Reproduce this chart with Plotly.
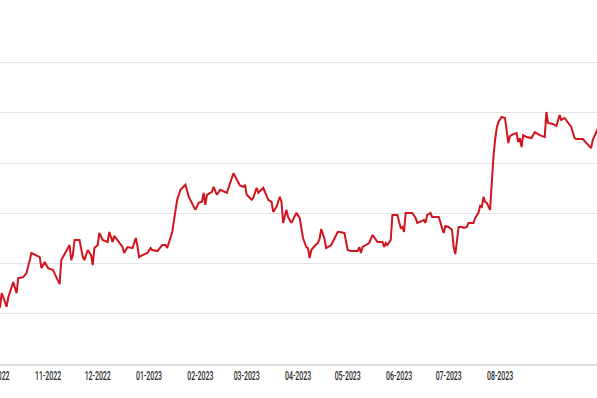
import plotly.graph_objects as go
import pandas as pd

dates = [
    "2022-10-03", "2022-10-04", "2022-10-05", "2022-10-07", "2022-10-08", "2022-10-11", "2022-10-13", "2022-10-14",
    "2022-10-17", "2022-10-19", "2022-10-22", "2022-10-25", "2022-10-27", "2022-10-28", "2022-10-30", "2022-11-01",
    "2022-11-04", "2022-11-06", "2022-11-08", "2022-11-09", "2022-11-12", "2022-11-14", "2022-11-15", "2022-11-16",
    "2022-11-17", "2022-11-20", "2022-11-22", "2022-11-23", "2022-11-25", "2022-11-27", "2022-11-28", "2022-11-29",
    "2022-12-01", "2022-12-02", "2022-12-04", "2022-12-07", "2022-12-08", "2022-12-10", "2022-12-11", "2022-12-14",
    "2022-12-16", "2022-12-17", "2022-12-19", "2022-12-22", "2022-12-24", "2022-12-25", "2022-12-26", "2022-12-28",
    "2022-12-31", "2023-01-02", "2023-01-03", "2023-01-06", "2023-01-09", "2023-01-11", "2023-01-12", "2023-01-15",
    "2023-01-17", "2023-01-18", "2023-01-20", "2023-01-22", "2023-01-23", "2023-01-25", "2023-01-28", "2023-01-29",
    "2023-01-31", "2023-02-02", "2023-02-03", "2023-02-04", "2023-02-05", "2023-02-08", "2023-02-09", "2023-02-11",
    "2023-02-13", "2023-02-17", "2023-02-21", "2023-02-23", "2023-02-25", "2023-02-27", "2023-02-28", "2023-03-01",
    "2023-03-04", "2023-03-05", "2023-03-07", "2023-03-08", "2023-03-11", "2023-03-12", "2023-03-14", "2023-03-16",
    "2023-03-17", "2023-03-19", "2023-03-21", "2023-03-22", "2023-03-23", "2023-03-25", "2023-03-26", "2023-03-28",
    "2023-03-31", "2023-04-02", "2023-04-04", "2023-04-06", "2023-04-07", "2023-04-08", "2023-04-09", "2023-04-11",
    "2023-04-13", "2023-04-14", "2023-04-15", "2023-04-17", "2023-04-18", "2023-04-21", "2023-04-22", "2023-04-25",
    "2023-04-26", "2023-04-29", "2023-05-01", "2023-05-03", "2023-05-07", "2023-05-08", "2023-05-09", "2023-05-10",
    "2023-05-13", "2023-05-14", "2023-05-16", "2023-05-19", "2023-05-22", "2023-05-23", "2023-05-24", "2023-05-25",
    "2023-05-27", "2023-05-28", "2023-05-31", "2023-06-02", "2023-06-03", "2023-06-04", "2023-06-05", "2023-06-06",
    "2023-06-09", "2023-06-11", "2023-06-12", "2023-06-15", "2023-06-16", "2023-06-17", "2023-06-18", "2023-06-20",
    "2023-06-21", "2023-06-23", "2023-06-25", "2023-06-27", "2023-06-28", "2023-06-29", "2023-07-01", "2023-07-03",
    "2023-07-04", "2023-07-05", "2023-07-06", "2023-07-07", "2023-07-09", "2023-07-10", "2023-07-12", "2023-07-13",
    "2023-07-16", "2023-07-17", "2023-07-19", "2023-07-20", "2023-07-21", "2023-07-22", "2023-07-23", "2023-07-24",
    "2023-07-26", "2023-07-27", "2023-07-28", "2023-07-29", "2023-07-30", "2023-07-31", "2023-08-02", "2023-08-04",
    "2023-08-06", "2023-08-07", "2023-08-09", "2023-08-11", "2023-08-12", "2023-08-13", "2023-08-14", "2023-08-15",
    "2023-08-17", "2023-08-20", "2023-08-22", "2023-08-25", "2023-08-28", "2023-08-29", "2023-08-30", "2023-09-02",
    "2023-09-04", "2023-09-06", "2023-09-07", "2023-09-09", "2023-09-11", "2023-09-13", "2023-09-15", "2023-09-16",
    "2023-09-20", "2023-09-23", "2023-09-25", "2023-09-26", "2023-09-29", "2023-09-30",
]

values = [
    1.12, 1.41, 1.33, 1.14, 1.33, 1.63, 1.41, 1.71,
    1.73, 1.81, 2.21, 2.17, 2.13, 1.91, 2.03, 1.91,
    1.87, 1.73, 1.59, 2.07, 2.27, 2.37, 2.07, 2.17,
    2.47, 2.47, 2.13, 2.07, 2.27, 2.17, 1.97, 2.31,
    2.37, 2.61, 2.47, 2.43, 2.63, 2.43, 2.55, 2.43,
    2.33, 2.21, 2.33, 2.31, 2.51, 2.35, 2.13, 2.17,
    2.21, 2.31, 2.27, 2.25, 2.37, 2.37, 2.31, 2.63,
    3.01, 3.27, 3.47, 3.53, 3.57, 3.33, 3.11, 3.07,
    3.21, 3.23, 3.41, 3.17, 3.37, 3.43, 3.53, 3.37,
    3.47, 3.41, 3.80, 3.67, 3.55, 3.53, 3.57, 3.37,
    3.27, 3.31, 3.51, 3.41, 3.51, 3.43, 3.27, 3.23,
    3.03, 3.13, 3.33, 3.23, 2.81, 3.07, 2.93, 2.81,
    3.01, 2.91, 2.51, 2.33, 2.31, 2.11, 2.27, 2.35,
    2.41, 2.49, 2.69, 2.49, 2.31, 2.37, 2.43, 2.63,
    2.63, 2.61, 2.27, 2.25, 2.25, 2.33, 2.21, 2.33,
    2.39, 2.41, 2.57, 2.43, 2.43, 2.33, 2.41, 2.37,
    2.47, 2.97, 2.97, 2.71, 2.73, 2.63, 3.01, 3.01,
    3.01, 2.91, 2.81, 2.85, 2.87, 2.81, 2.97, 3.01,
    2.93, 2.93, 2.93, 2.71, 2.61, 2.75, 2.73, 2.67,
    2.33, 2.19, 2.53, 2.73, 2.73, 2.71, 2.73, 2.81,
    2.81, 2.91, 3.01, 3.15, 3.13, 3.33, 3.23, 3.21,
    3.07, 3.67, 4.12, 4.46, 4.70, 4.82, 4.92, 4.90,
    4.40, 4.54, 4.58, 4.60, 4.42, 4.50, 4.32, 4.56,
    4.52, 4.50, 4.62, 4.56, 4.52, 5.02, 4.80, 4.78,
    4.74, 4.96, 4.86, 4.90, 4.80, 4.72, 4.50, 4.48,
    4.48, 4.36, 4.30, 4.46, 4.68, 4.76,
]

tick_dates = [
    "2022-10-01", "2022-11-01", "2022-12-01", "2023-01-01", "2023-02-01", "2023-03-01",
    "2023-04-01", "2023-05-01", "2023-06-01", "2023-07-01", "2023-08-01",
]
tick_labels = [
    "10-2022", "11-2022", "12-2022", "01-2023", "02-2023", "03-2023",
    "04-2023", "05-2023", "06-2023", "07-2023", "08-2023",
]
grid_values = [1, 2, 3, 4, 5, 6]
x_range = ["2022-10-02 23:50", "2023-09-28 13:40"]
y_range = [0, 7.25]

LINE_RED = "#d2141f"
TICK_FONT = dict(family="Roboto, Liberation Sans, sans-serif", size=12, color="#2a2a2a", weight=500)

fig = go.Figure()
fig.add_trace(go.Scatter(
    x=dates, y=values, mode="lines",
    line=dict(color=LINE_RED, width=2),
    hoverinfo="skip", showlegend=False,
))

fig.update_layout(
    width=597, height=398,
    margin=dict(l=0, r=0, t=0, b=34, autoexpand=False),
    paper_bgcolor="white", plot_bgcolor="white",
    showlegend=False,
)

fig.update_xaxes(
    type="date", range=x_range,
    tickvals=tick_dates, ticktext=tick_labels, tickangle=0, automargin=False,
    showgrid=False, zeroline=False,
    showline=True, linecolor="#dedede", linewidth=2,
    ticks="", tickfont=TICK_FONT,
)
fig.update_yaxes(
    range=y_range, tickvals=grid_values, showticklabels=False, automargin=False,
    showgrid=True, gridcolor="#e3e3e3", gridwidth=1,
    zeroline=False, showline=False, ticks="",
)

# The first month label sits left of the visible range; place it like a tick label.
r0 = pd.Timestamp(x_range[0])
r1 = pd.Timestamp(x_range[1])
frac = (pd.Timestamp(tick_dates[0]) - r0) / (r1 - r0)
fig.add_annotation(
    x=frac, xref="paper", y=0, yref="paper",
    text=tick_labels[0], showarrow=False,
    xanchor="center", yanchor="top", yshift=-3,
    font=TICK_FONT,
)

# Condensed look for the month labels (the original uses a condensed typeface).
post_js = """
var gd = document.getElementById('{plot_id}');
function squeeze(){
  gd.querySelectorAll('.xtick text, .annotation-text').forEach(function(t){
    if(t.getAttribute('data-sq')) return;
    var w = t.getComputedTextLength();
    t.setAttribute('textLength', (w*0.58).toFixed(1));
    t.setAttribute('lengthAdjust', 'spacingAndGlyphs');
    t.setAttribute('data-sq', '1');
  });
}
squeeze();
gd.on('plotly_afterplot', squeeze);
"""

fig.write_html("out.html", post_script=post_js)
